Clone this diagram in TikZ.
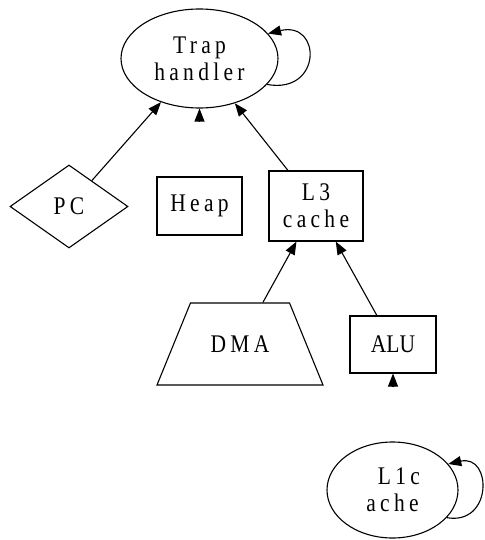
\documentclass[tikz,border=0pt]{standalone}
\usepackage{fontspec}
\setmainfont{Liberation Serif}
\newfontfamily\spacedfont[LetterSpace=20]{Liberation Serif}
\usetikzlibrary{arrows.meta,shapes.geometric}

\begin{document}
\begin{tikzpicture}[x=1pt, y=-1pt,
  every node/.style={draw, line width=1.1pt, inner sep=0pt, align=center,
    font=\fontsize{21.5}{27}\selectfont\spacedfont},
  edge/.style={line width=1.1pt, -{Triangle[length=13pt, width=10pt]}}]

\newcommand{\tall}[1]{\scalebox{1}[1.18]{#1}}

\useasboundingbox (0,0) rectangle (484,540);

% top
\node[ellipse, minimum width=157, minimum height=99] (trap) at (199.5,58.5)
  {\tall{Trap}\\\tall{handler}};

% middle row
\node[diamond, minimum width=118, minimum height=83] (pc) at (69,206.5) {\tall{PC}};
\node[rectangle, minimum width=85, minimum height=58] (heap) at (199.5,206) {\tall{Heap}};
\node[rectangle, minimum width=94, minimum height=70] (l3) at (316,206)
  {\tall{L3}\\\tall{cache}};

% lower row
\node[trapezium, trapezium left angle=67.5, trapezium right angle=67.5,
  inner ysep=32, trapezium stretches body=true,
  minimum width=166, minimum height=82] (dma) at (240,344)
  {\tall{DMA}};
\node[rectangle, minimum width=86, minimum height=57] (alu) at (393,344.5)
  {\tall{\rmfamily ALU}};

% bottom
\node[ellipse, minimum width=131, minimum height=96] (l1) at (392.5,490)
  {\tall{\hspace*{0.6em}L1c}\\\tall{ache}};

% edges
\draw[edge] (pc) -- (trap);
\draw[edge] (l3) -- (trap);
\draw[edge] (dma) -- (l3);
\draw[edge] (alu) -- (l3);

% loose arrow heads
\coordinate (trapstub) at (199.5,121.5);
\coordinate (alustub) at (393,386.5);
\draw[edge] (trapstub) -- (trap.south);
\draw[edge] (alustub) -- (alu.south);

% self loops
\draw[edge] (trap.-21) .. controls +(55,10) and +(54,-13) .. (trap.20);
\draw[edge] (l1.-27) .. controls +(46,8) and +(44,-10) .. (l1.25);

\end{tikzpicture}
\end{document}
